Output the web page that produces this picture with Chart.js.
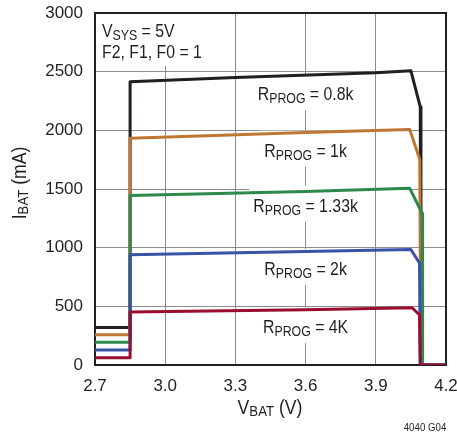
<!DOCTYPE html>
<html>
<head>
<meta charset="utf-8">
<script src="https://cdn.jsdelivr.net/npm/chart.js@4.4.1/dist/chart.umd.min.js"></script>
<style>
  html, body { margin: 0; padding: 0; background: #fff; }
</style>
</head>
<body>
<canvas id="chart" width="457" height="434"></canvas>
<script>
// axis ticks
const xTicks = [2.7, 3.0, 3.3, 3.6, 3.9, 4.2];
const yTicks = [0, 500, 1000, 1500, 2000, 2500, 3000];

// curves (V, mA)
const r08kX = [2.7, 2.85, 2.85, 3.3, 3.9, 4.05, 4.09, 4.093, 4.2];
const r08kY = [320, 320, 2415, 2450, 2490, 2507, 2200, 0, 0];
const r1kX = [2.7, 2.85, 2.85, 3.6, 4.045, 4.088, 4.092, 4.2];
const r1kY = [258, 258, 1932, 1982, 2008, 1750, 0, 0];
const r133kX = [2.7, 2.85, 2.85, 3.6, 4.045, 4.098, 4.1, 4.2];
const r133kY = [193, 193, 1445, 1478, 1506, 1293, 0, 0];
const r2kX = [2.7, 2.85, 2.85, 3.6, 4.05, 4.087, 4.09, 4.2];
const r2kY = [128, 128, 940, 968, 985, 867, 0, 0];
const r4kX = [2.7, 2.85, 2.85, 3.6, 4.055, 4.087, 4.09, 4.2];
const r4kY = [62, 62, 452, 470, 488, 426, 0, 0];

const FONT = "'Liberation Sans', Arial, sans-serif";
const INK = '#231f20';
const SQUEEZE = 0.88; // narrow the drawn text a bit, like the condensed original

// curve labels: [value text, x (V), y (mA)]
const curveLabels = [
  ['0.8k', 3.6, 2300],
  ['1k', 3.6, 1818],
  ['1.33k', 3.6, 1349],
  ['2k', 3.6, 810],
  ['4K', 3.6, 315]
];

function pts(xs, ys) {
  return xs.map((x, i) => ({ x: x, y: ys[i] }));
}

// text runs look like [['R', 18, 0], ['PROG', 14, 4]]: text, size, drop
function runsWidth(ctx, runs) {
  let w = 0;
  runs.forEach(r => {
    ctx.font = r[1] + 'px ' + FONT;
    w += ctx.measureText(r[0]).width;
  });
  return w * SQUEEZE;
}

function drawRuns(ctx, runs, x, y, align) {
  const w = runsWidth(ctx, runs);
  const start = align === 'center' ? x - w / 2 : x;
  ctx.save();
  ctx.translate(start, y);
  ctx.scale(SQUEEZE, 1);
  ctx.textBaseline = 'middle';
  ctx.textAlign = 'left';
  let cx = 0;
  runs.forEach(r => {
    ctx.font = r[1] + 'px ' + FONT;
    ctx.fillText(r[0], cx, r[2]);
    cx += ctx.measureText(r[0]).width;
  });
  ctx.restore();
}

const notesPlugin = {
  id: 'notes',
  beforeDatasetsDraw(chart) {
    const ctx = chart.ctx;
    const xs = chart.scales.x;
    const ys = chart.scales.y;
    const a = chart.chartArea;
    ctx.save();

    // top-left condition box
    ctx.fillStyle = '#fff';
    ctx.fillRect(a.left + 1, a.top + 1, 110, 52);
    ctx.fillStyle = INK;
    drawRuns(ctx, [['V', 18, 0], ['SYS', 14, 4], [' = 5V', 18, 0]], a.left + 7, a.top + 19, 'left');
    drawRuns(ctx, [['F2, F1, F0 = 1', 18, 0]], a.left + 7, a.top + 40, 'left');

    // curve labels with white backing
    curveLabels.forEach(l => {
      const px = xs.getPixelForValue(l[1]);
      const py = ys.getPixelForValue(l[2]);
      const runs = [['R', 18, 0], ['PROG', 14, 4], [' = ' + l[0], 18, 0]];
      const w = runsWidth(ctx, runs);
      ctx.fillStyle = '#fff';
      ctx.fillRect(px - w / 2 - 4, py - 21, w + 8, 36);
      ctx.fillStyle = INK;
      drawRuns(ctx, runs, px, py, 'center');
    });

    // plot frame
    ctx.strokeStyle = INK;
    ctx.lineWidth = 2;
    ctx.strokeRect(a.left, a.top, a.right - a.left, a.bottom - a.top);
    ctx.restore();
  },
  afterDraw(chart) {
    const ctx = chart.ctx;
    ctx.save();
    ctx.fillStyle = INK;
    drawRuns(ctx, [['V', 20, 0], ['BAT', 15, 4], [' (V)', 20, 0]], 270, 408, 'center');
    drawRuns(ctx, [['4040 G04', 11, 0]], 425, 428, 'center');
    ctx.translate(20, 183);
    ctx.rotate(-Math.PI / 2);
    drawRuns(ctx, [['I', 20, 0], ['BAT', 15, 4], [' (mA)', 20, 0]], 0, 0, 'center');
    ctx.restore();
  }
};

function line(xs, ys, color) {
  return {
    data: pts(xs, ys),
    borderColor: color,
    borderWidth: 3,
    pointRadius: 0,
    tension: 0,
    fill: false,
    borderJoinStyle: 'round'
  };
}

function initChart() {
  const ctx = document.getElementById('chart').getContext('2d');
  new Chart(ctx, {
    type: 'line',
    data: {
      datasets: [
        line(r4kX, r4kY, '#9b0d2e'),
        line(r2kX, r2kY, '#3753a6'),
        line(r133kX, r133kY, '#2e8a4b'),
        line(r1kX, r1kY, '#c07633'),
        line(r08kX, r08kY, '#231f20')
      ]
    },
    options: {
      responsive: false,
      animation: false,
      layout: { padding: { top: 13, right: 11, left: 0, bottom: 0 } },
      plugins: { legend: { display: false }, tooltip: { enabled: false } },
      scales: {
        x: {
          type: 'linear',
          min: 2.7,
          max: 4.2,
          afterBuildTicks: s => { s.ticks = xTicks.map(v => ({ value: v })); },
          afterFit: s => { s.height = 69; s.paddingLeft = 0; s.paddingRight = 0; },
          ticks: {
            callback: v => v.toFixed(1),
            font: { family: FONT, size: 17 },
            color: INK,
            padding: 11,
            maxRotation: 0,
            autoSkip: false
          },
          grid: { color: '#8c8c8c', lineWidth: 1, drawTicks: false },
          border: { display: false }
        },
        y: {
          min: 0,
          max: 3000,
          afterBuildTicks: s => { s.ticks = yTicks.map(v => ({ value: v })); },
          afterFit: s => { s.width = 95; s.paddingTop = 0; s.paddingBottom = 0; },
          ticks: {
            callback: v => String(v),
            font: { family: FONT, size: 17 },
            color: INK,
            padding: 12
          },
          grid: { color: '#8c8c8c', lineWidth: 1, drawTicks: false },
          border: { display: false }
        }
      }
    },
    plugins: [notesPlugin]
  });
}

window.addEventListener('DOMContentLoaded', initChart);
</script>
</body>
</html>
